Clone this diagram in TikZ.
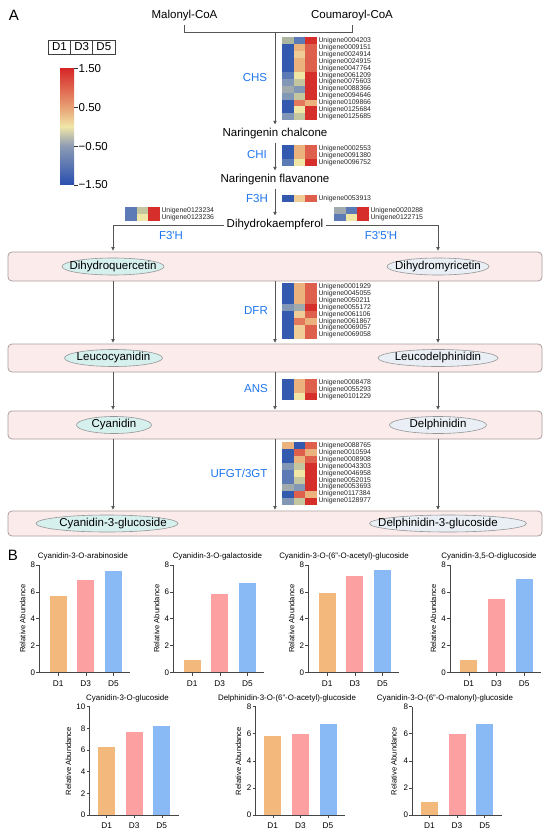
\documentclass[tikz,border=0pt]{standalone}
\usepackage{fontspec}
\setmainfont{Liberation Sans}
\usetikzlibrary{arrows.meta,shapes.geometric,calc}
% heatmap colours
\definecolor{hB}{RGB}{52,90,175}
\definecolor{hBG}{RGB}{92,122,182}
\definecolor{hGB}{RGB}{130,150,182}
\definecolor{hG}{RGB}{160,170,172}
\definecolor{hGG}{RGB}{172,182,160}
\definecolor{hGY}{RGB}{196,198,160}
\definecolor{hY}{RGB}{240,230,165}
\definecolor{hPO}{RGB}{240,205,150}
\definecolor{hLO}{RGB}{236,178,126}
\definecolor{hO}{RGB}{228,120,92}
\definecolor{hS}{RGB}{222,95,75}
\definecolor{hR}{RGB}{214,46,42}
% colour bar
\definecolor{cbB}{RGB}{40,78,175}
\definecolor{cbG}{RGB}{140,155,180}
\definecolor{cbY}{RGB}{240,230,168}
\definecolor{cbO}{RGB}{232,160,115}
\definecolor{cbR}{RGB}{214,38,40}
\pgfdeclareverticalshading{cbsh}{100bp}{color(0bp)=(cbB); color(25bp)=(cbB); color(41.67bp)=(cbG); color(50bp)=(cbY); color(58.33bp)=(cbO); color(75bp)=(cbR); color(100bp)=(cbR)}
% others
\definecolor{enzc}{RGB}{30,118,240}
\definecolor{boxf}{RGB}{251,235,235}
\definecolor{boxd}{RGB}{172,158,158}
\definecolor{ellL}{RGB}{214,240,238}
\definecolor{ellR}{RGB}{233,239,245}
\definecolor{elld}{RGB}{150,150,150}
\definecolor{lnc}{RGB}{85,85,85}
\definecolor{bD1}{RGB}{242,184,124}
\definecolor{bD3}{RGB}{252,160,162}
\definecolor{bD5}{RGB}{138,186,245}
\definecolor{axc}{RGB}{70,70,70}

\tikzset{
  ln/.style={draw=lnc, line width=0.8pt},
  arr/.style={ln, -{Triangle[length=3.6pt,width=3.4pt]}, shorten >=1pt},
  mtxt/.style={font=\fontsize{11.5}{13}\selectfont, inner sep=3pt},
  enz/.style={font=\fontsize{11.5}{13}\selectfont, text=enzc, inner sep=0pt},
  genelab/.style={anchor=west, inner sep=1.2pt, font=\fontsize{6.9}{7}\selectfont, text=black!85},
  pbox/.style={draw=boxd, fill=boxf, rounded corners=4pt, line width=0.8pt, minimum width=534pt, inner sep=0pt},
  ell/.style={ellipse, draw=elld, line width=0.6pt, inner sep=0pt, minimum height=17pt, font=\fontsize{11.5}{13}\selectfont},
  lgc/.style={draw=black!75, line width=0.6pt, minimum width=22.2pt, minimum height=14pt, inner sep=0pt, font=\fontsize{11.5}{13}\selectfont},
  cbl/.style={anchor=west, inner sep=1pt, font=\fontsize{11.5}{13}\selectfont},
  panel/.style={font=\fontsize{15}{16}\selectfont, inner sep=0pt},
  axl/.style={draw=axc, line width=0.6pt},
  tickl/.style={anchor=east, inner sep=1pt, font=\fontsize{8}{9}\selectfont},
  xlab/.style={inner sep=0pt, font=\fontsize{8.3}{9}\selectfont},
  ttl/.style={inner sep=0pt, font=\fontsize{7.9}{9}\selectfont},
  ylab/.style={inner sep=0pt, rotate=90, font=\fontsize{7.6}{9}\selectfont},
}

\newcommand{\heatmap}[4]{%
  \foreach \ca/\cb/\cc/\lab [count=\i] in {#4} {
    \fill[\ca] ({#2},{#3+(\i-1)*6.95}) rectangle ++(11.75,6.95);
    \fill[\cb] ({#2+11.7},{#3+(\i-1)*6.95}) rectangle ++(11.75,6.95);
    \fill[\cc] ({#2+23.4},{#3+(\i-1)*6.95}) rectangle ++(11.7,6.95);
    \node[genelab] (#1-\i) at ({#2+35.1},{#3+(\i-0.5)*6.95}) {Unigene\lab};
  }}

% #1 name, #2 x0, #3 y0, #4 unit, #5 ymax, #6 #7 #8 heights
\newcommand{\bchart}[8]{%
  \fill[bD1] ({#2+\bo-8.5},{#3}) rectangle ++(17,{-#6*#4});
  \fill[bD3] ({#2+\bo+\bs-8.5},{#3}) rectangle ++(17,{-#7*#4});
  \fill[bD5] ({#2+\bo+2*\bs-8.5},{#3}) rectangle ++(17,{-#8*#4});
  \draw[axl] ({#2},{#3}) -- ({#2},{#3-#5*#4});
  \foreach \t in {0,2,...,#5} {\draw[axl] ({#2},{#3-\t*#4}) -- ++(-3,0) node[tickl] (#1-t\t) {\t};}
  \draw[axl] ({#2},{#3}) -- ({#2+\bend},{#3});
  \foreach \k/\lb in {0/D1,1/D3,2/D5} {
    \draw[axl] ({#2+\bo+\k*\bs},{#3}) -- ++(0,3);
    \node[xlab] (#1-\lb) at ({#2+\bo+\k*\bs},{#3+11}) {\lb};}
}

\begin{document}
\begin{tikzpicture}[x=1pt,y=-1pt]
\useasboundingbox (0,0) rectangle (550,834);
\fill[white] (0,0) rectangle (550,834);

% ---------- panel A ----------
\node[panel] (A) at (14,15) {A};

% legend
\node[lgc] (lg1) at (59.4,47) {D1};
\node[lgc] (lg3) at (81.6,47) {D3};
\node[lgc] (lg5) at (103.8,47) {D5};
\node[shading=cbsh, minimum width=14pt, minimum height=116.7pt, inner sep=0pt] (cb) at (67,126.65) {};
\foreach \yy/\tx [count=\j] in {68.3/1.50, 107.2/0.50, 146.1/−0.50, 185/−1.50} {
  \draw[line width=0.6pt, black!80] (74,\yy) -- (77.5,\yy);
  \node[cbl] (cbl\j) at (77.5,\yy) {\tx};
}

% top precursors
\node[mtxt] (mal) at (184.5,16) {Malonyl-CoA};
\node[mtxt] (cou) at (352,16) {Coumaroyl-CoA};
\coordinate (br) at (275,32);
\draw[ln] (mal |- 0,25) -- (mal |- br) -- (cou |- br) -- (cou |- 0,25);

\node[mtxt] (nc) at (275,134) {Naringenin chalcone};
\node[mtxt] (nf) at (275,180) {Naringenin flavanone};
\node[mtxt] (dhk) at (275,225) {Dihydrokaempferol};

\draw[arr] (br) -- (nc);
\draw[arr] (nc) -- (nf);
\draw[arr] (nf) -- (dhk);

% enzyme labels
\node[enz] (chs) at (255,78) {CHS};
\node[enz] (chi) at (257,155) {CHI};
\node[enz] (f3h) at (257,199) {F3H};
\node[enz] (f3ph) at (171,236) {F3\textquotesingle H};
\node[enz] (f35h) at (381,236) {F3\textquotesingle 5\textquotesingle H};
\node[enz] (dfr) at (256,311) {DFR};
\node[enz] (ans) at (256,389) {ANS};
\node[enz] (ufgt) at (239,473) {UFGT/3GT};

% heatmaps
\heatmap{chsh}{282}{37}{hGG/hBG/hR/0004203, hB/hLO/hS/0009151, hB/hPO/hS/0024914, hB/hLO/hS/0024915, hB/hLO/hS/0047764, hBG/hY/hR/0061209, hGB/hGY/hR/0075603, hG/hGB/hR/0088366, hGB/hGY/hR/0094646, hB/hO/hLO/0109866, hB/hY/hR/0125684, hGB/hGY/hR/0125685}
\heatmap{chih}{282}{145}{hB/hLO/hS/0002553, hB/hLO/hS/0091380, hBG/hY/hR/0096752}
\heatmap{f3hh}{282}{195}{hB/hPO/hS/0053913}
\heatmap{f3ph}{125}{207.5}{hBG/hGY/hR/0123234, hBG/hY/hR/0123236}
\heatmap{f35h}{334}{207.5}{hG/hBG/hR/0020288, hBG/hY/hR/0122715}
\heatmap{dfrh}{282}{283}{hB/hLO/hS/0001929, hB/hLO/hS/0045055, hB/hLO/hS/0050211, hGB/hG/hR/0055172, hB/hPO/hS/0061106, hB/hO/hLO/0061867, hB/hPO/hS/0069057, hB/hPO/hS/0069058}
\heatmap{ansh}{282}{379}{hB/hLO/hS/0008478, hB/hLO/hS/0055293, hB/hY/hR/0101229}
\heatmap{ufgth}{282}{442}{hLO/hB/hS/0088765, hB/hS/hLO/0010594, hB/hLO/hS/0008908, hGB/hGY/hR/0043303, hBG/hY/hR/0046958, hBG/hGY/hR/0052015, hG/hGB/hR/0053693, hB/hS/hLO/0117384, hGB/hGY/hR/0128977}

% pink rows
\node[pbox, minimum height=29pt] (row1) at (275,266.5) {};
\node[pbox, minimum height=28pt] (row2) at (275,358) {};
\node[pbox, minimum height=28pt] (row3) at (275,425) {};
\node[pbox, minimum height=25pt] (row4) at (275,523.5) {};

\coordinate (xL) at (113,0);
\coordinate (xC) at (275,0);
\coordinate (xR) at (438,0);

% compounds
\node[ell, fill=ellL, minimum width=102pt] (dq) at (113,266.5) {\makebox[0pt]{Dihydroquercetin}};
\node[ell, fill=ellR, minimum width=102pt] (dm) at (438,266.5) {\makebox[0pt]{Dihydromyricetin}};
\node[ell, fill=ellL, minimum width=98pt] (lc) at (113.5,358) {\makebox[0pt]{Leucocyanidin}};
\node[ell, fill=ellR, minimum width=120pt] (ld) at (438,358) {\makebox[0pt]{Leucodelphinidin}};
\node[ell, fill=ellL, minimum width=75pt] (cy) at (114,425) {\makebox[0pt]{Cyanidin}};
\node[ell, fill=ellR, minimum width=97pt] (de) at (438,425) {\makebox[0pt]{Delphinidin}};
\node[ell, fill=ellL, minimum width=142pt] (cg) at (107,523.5) {\makebox[0pt]{\hspace*{12pt}Cyanidin-3-glucoside}};
\node[ell, fill=ellR, minimum width=157pt] (dg) at (448,523.5) {\makebox[0pt]{\hspace*{-20pt}Delphinidin-3-glucoside}};

% branches from dihydrokaempferol
\draw[arr] (dhk.west) -| (xL |- row1.north);
\draw[arr] (dhk.east) -| (xR |- row1.north);

% arrows between rows
\foreach \a/\b in {row1/row2, row2/row3, row3/row4}
  \foreach \c in {xL, xC, xR}
    \draw[arr] (\a.south -| \c) -- (\b.north -| \c);

% ---------- panel B ----------
\node[panel] (B) at (13,555.5) {B};

\def\bo{18.8}\def\bs{27.7}\def\bend{91}
\bchart{c1}{39.3}{672.5}{13.44}{8}{5.7}{6.9}{7.55}
\bchart{c2}{173.3}{672.5}{13.44}{8}{0.95}{5.85}{6.65}
\bchart{c3}{308.3}{672.5}{13.44}{8}{5.9}{7.2}{7.6}
\bchart{c4}{450}{672.5}{13.44}{8}{0.95}{5.5}{6.95}

\node[ttl] (t1) at (83,556.5) {Cyanidin-3-O-arabinoside};
\node[ttl] (t2) at (217.5,556.5) {Cyanidin-3-O-galactoside};
\node[ttl] (t3) at (344,556.5) {Cyanidin-3-O-(6''-O-acetyl)-glucoside};
\node[ttl] (t4) at (489,556.5) {Cyanidin-3,5-O-diglucoside};
\node[ylab] (y1) at (22.7,618.7) {Relative Abundance};
\node[ylab] (y2) at (156.7,618.7) {Relative Abundance};
\node[ylab] (y3) at (291.7,618.7) {Relative Abundance};
\node[ylab] (y4) at (433.4,618.7) {Relative Abundance};

\def\bo{17.1}\def\bs{27.6}\def\bend{89.5}
\bchart{c5}{89.5}{815}{10.83}{10}{6.3}{7.65}{8.2}
\bchart{c6}{255.7}{815}{13.54}{8}{5.8}{6.0}{6.7}
\bchart{c7}{412.3}{815}{13.54}{8}{0.95}{6.0}{6.75}

\node[ttl] (t5) at (127.5,698) {Cyanidin-3-O-glucoside};
\node[ttl] (t6) at (287,698) {Delphinidin-3-O-(6''-O-acetyl)-glucoside};
\node[ttl] (t7) at (445,698) {Cyanidin-3-O-(6''-O-malonyl)-glucoside};
\node[ylab] (y5) at (68.5,761) {Relative Abundance};
\node[ylab] (y6) at (238.3,761) {Relative Abundance};
\node[ylab] (y7) at (394,761) {Relative Abundance};
\end{tikzpicture}
\end{document}
